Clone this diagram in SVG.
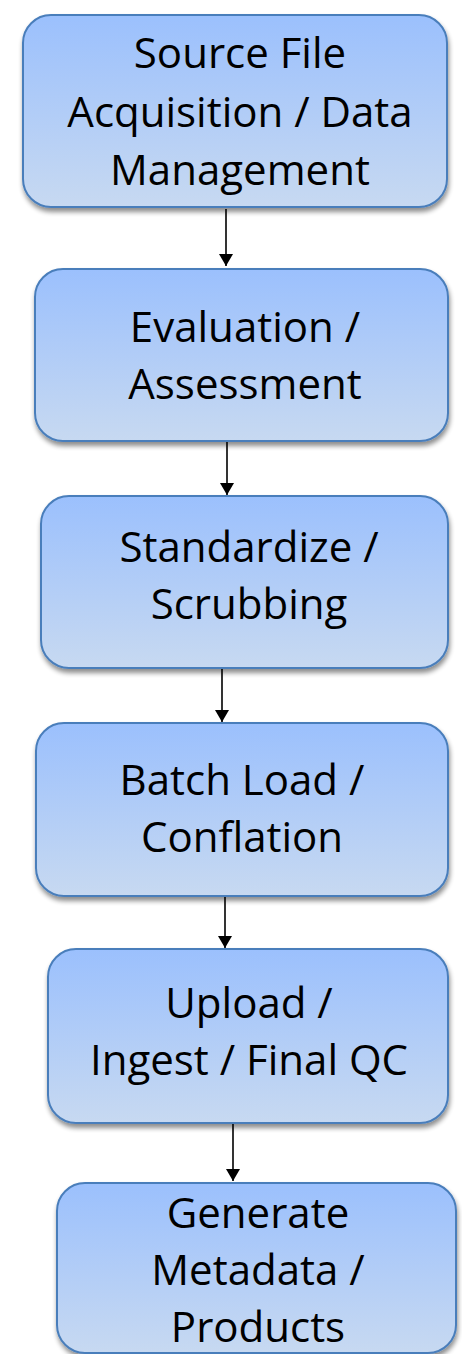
<svg xmlns="http://www.w3.org/2000/svg" width="462" height="1354" viewBox="0 0 462 1354">
<style>
.box{fill:url(#g);stroke:#4A7EBB;stroke-width:2;filter:url(#sh)}
.t{font-family:"Open Sans","Liberation Sans",sans-serif;font-size:42px;fill:#000;text-anchor:middle}
.c{stroke:#000;stroke-width:1.6;fill:none;marker-end:url(#ah)}
</style>
<defs>
<linearGradient id="g" x1="0" y1="0" x2="0" y2="1">
<stop offset="0" stop-color="#9BC0FD"/>
<stop offset="1" stop-color="#C7D9F1"/>
</linearGradient>
<filter id="sh" x="-10%" y="-10%" width="120%" height="130%">
<feGaussianBlur in="SourceAlpha" stdDeviation="2.5"/>
<feOffset dx="1" dy="4" result="b"/>
<feComponentTransfer><feFuncA type="linear" slope="0.45"/></feComponentTransfer>
<feMerge><feMergeNode/><feMergeNode in="SourceGraphic"/></feMerge>
</filter>
<marker id="ah" viewBox="0 0 12 14" refX="12" refY="7" markerWidth="12" markerHeight="14" markerUnits="userSpaceOnUse" orient="auto">
<path d="M0,0 L12,7 L0,14 Z" fill="#000"/>
</marker>
</defs>
<g id="connectors">
<line class="c" x1="226" y1="209" x2="226" y2="266"/>
<line class="c" x1="227" y1="442" x2="227" y2="495"/>
<line class="c" x1="222" y1="669" x2="222" y2="722"/>
<line class="c" x1="225" y1="897" x2="225" y2="948"/>
<line class="c" x1="233" y1="1124" x2="233" y2="1181"/>
</g>
<g id="n1">
<rect class="box" x="23" y="15" width="424" height="192" rx="28"/>
<text class="t" x="240" y="68">Source File</text>
<text class="t" x="240" y="127">Acquisition / Data</text>
<text class="t" x="240" y="185">Management</text>
</g>
<g id="n2">
<rect class="box" x="35" y="269" width="413" height="172" rx="28"/>
<text class="t" x="245" y="342">Evaluation /</text>
<text class="t" x="245" y="399">Assessment</text>
</g>
<g id="n3">
<rect class="box" x="41" y="496" width="407" height="172" rx="28"/>
<text class="t" x="249" y="562">Standardize /</text>
<text class="t" x="249" y="619">Scrubbing</text>
</g>
<g id="n4">
<rect class="box" x="36" y="723" width="412" height="173" rx="28"/>
<text class="t" x="242" y="795">Batch Load /</text>
<text class="t" x="242" y="852">Conflation</text>
</g>
<g id="n5">
<rect class="box" x="48" y="949" width="400" height="174" rx="28"/>
<text class="t" x="249" y="1018">Upload /</text>
<text class="t" x="249" y="1075">Ingest / Final QC</text>
</g>
<g id="n6">
<rect class="box" x="57" y="1183" width="399" height="170" rx="28"/>
<text class="t" x="258" y="1228">Generate</text>
<text class="t" x="258" y="1285">Metadata /</text>
<text class="t" x="258" y="1342">Products</text>
</g>
</svg>
